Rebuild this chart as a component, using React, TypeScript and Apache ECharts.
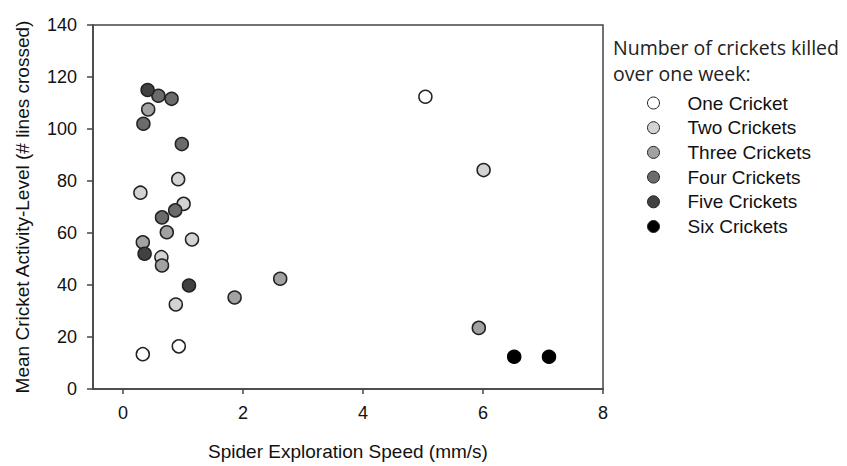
import React, { useEffect, useRef } from "react";
import * as echarts from "echarts";

const seriesNames = [
  "One Cricket",
  "Two Crickets",
  "Three Crickets",
  "Four Crickets",
  "Five Crickets",
  "Six Crickets",
];
const seriesColors = ["#ffffff", "#d3d3d3", "#a2a2a2", "#6b6b6b", "#414141", "#000000"];

const oneCricket = [[5.04, 112.4], [0.33, 13.4], [0.93, 16.4]];
const twoCrickets = [[0.92, 80.7], [0.29, 75.5], [1.01, 71.2], [1.15, 57.5], [0.64, 50.7], [0.88, 32.5], [6.01, 84.2]];
const threeCrickets = [[0.42, 107.5], [0.73, 60.3], [0.33, 56.4], [0.65, 47.5], [2.62, 42.4], [1.86, 35.2], [5.93, 23.5]];
const fourCrickets = [[0.59, 112.8], [0.81, 111.6], [0.34, 102], [0.98, 94.2], [0.87, 68.7], [0.65, 66]];
const fiveCrickets = [[0.41, 115], [0.36, 52], [1.1, 39.8]];
const sixCrickets = [[6.52, 12.4], [7.1, 12.4]];

const allData = [oneCricket, twoCrickets, threeCrickets, fourCrickets, fiveCrickets, sixCrickets];

const xTicks = [0, 2, 4, 6, 8];

export default function App() {
  const ref = useRef<HTMLDivElement>(null);
  useEffect(() => {
    document.body.style.margin = "0";
    if (!ref.current) return;
    const chart = echarts.init(ref.current, undefined, { renderer: "svg" });
    const axisFont = "Liberation Sans, Arial, sans-serif";
    chart.setOption({
      animation: false,
      backgroundColor: "#ffffff",
      grid: {
        left: 93,
        top: 25,
        width: 510,
        height: 368,
        show: true,
        borderColor: "#444",
        borderWidth: 1.5,
        containLabel: false,
      },
      title: {
        text: "Number of crickets killed\nover one week:",
        left: 613,
        top: 34,
        padding: 0,
        textStyle: {
          fontFamily: "Open Sans, sans-serif",
          fontSize: 19.5,
          fontWeight: "normal",
          color: "#222",
          lineHeight: 26,
        },
      },
      legend: {
        orient: "vertical",
        left: 647,
        top: 92,
        padding: 0,
        itemWidth: 12,
        itemHeight: 12,
        itemGap: 2.7,
        icon: "circle",
        itemStyle: { borderWidth: 1, borderColor: "#222" },
        textStyle: {
          fontFamily: axisFont,
          fontSize: 19,
          color: "#111",
          lineHeight: 22,
          padding: [0, 0, 0, 23],
        },
        data: seriesNames,
      },
      xAxis: {
        type: "value",
        min: -0.5,
        max: 8,
        name: "Spider Exploration Speed (mm/s)",
        nameLocation: "middle",
        nameGap: 53,
        nameTextStyle: { fontFamily: axisFont, fontSize: 19, color: "#111" },
        axisLine: { show: true, onZero: false, lineStyle: { color: "#444", width: 1.5 } },
        axisTick: { show: true, length: 5, lineStyle: { color: "#444", width: 1.5 }, customValues: xTicks },
        axisLabel: { fontFamily: axisFont, fontSize: 18, color: "#111", margin: 15, customValues: xTicks },
        splitLine: { show: false },
      },
      yAxis: {
        type: "value",
        min: 0,
        max: 140,
        interval: 20,
        name: "Mean Cricket Activity-Level (# lines crossed)",
        nameLocation: "middle",
        nameGap: 61,
        nameTextStyle: { fontFamily: axisFont, fontSize: 19, color: "#111" },
        axisLine: { show: true, onZero: false, lineStyle: { color: "#444", width: 1.5 } },
        axisTick: { show: true, length: 6, lineStyle: { color: "#444", width: 1.5 } },
        axisLabel: { fontFamily: axisFont, fontSize: 18, color: "#111", margin: 16 },
        splitLine: { show: false },
      },
      series: seriesNames.map((name, i) => ({
        name,
        type: "scatter",
        symbol: "circle",
        symbolSize: 13,
        data: allData[i],
        itemStyle: {
          color: seriesColors[i],
          borderColor: i === 5 ? "#000" : "#222",
          borderWidth: 1.5,
          opacity: 1,
        },
      })),
    });
    return () => chart.dispose();
  }, []);
  return <div ref={ref} style={{ width: 847, height: 466 }} />;
}
